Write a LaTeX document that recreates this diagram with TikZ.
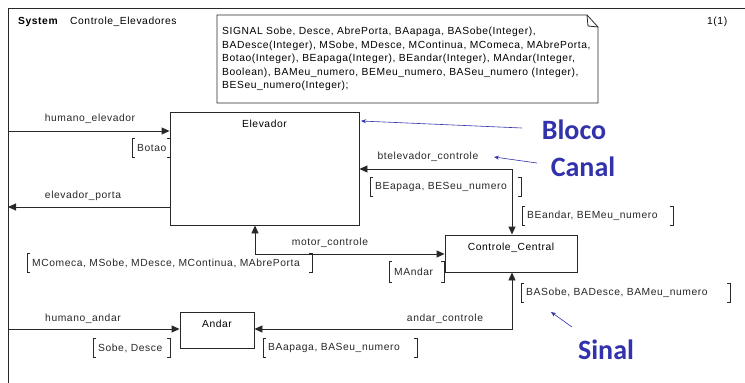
\documentclass[tikz,border=0pt]{standalone}
\usepackage{fontspec}
\setmainfont[LetterSpace=5.5]{Liberation Sans}
\newfontfamily\calloutfont{Carlito}
\usetikzlibrary{arrows.meta}
\definecolor{noteblue}{RGB}{50,50,172}
\definecolor{inkgray}{RGB}{40,40,40}

\tikzset{
  blk/.style={draw=inkgray, line width=0.9pt, inner sep=0pt},
  chan/.style={draw=inkgray, line width=0.9pt, -{Triangle[length=8pt,width=7pt]}},
  chanboth/.style={draw=inkgray, line width=0.9pt, {Triangle[length=8pt,width=7pt]}-{Triangle[length=8pt,width=7pt]}},
  chlabel/.style={inner sep=0pt, text=inkgray},
  sigtxt/.style={inner xsep=5pt, inner ysep=0pt, minimum height=18pt, align=left, text=inkgray},
  brk/.style={draw=inkgray, line width=0.7pt},
  callout/.style={text=noteblue, font=\calloutfont\bfseries\fontsize{28}{28}\selectfont, inner sep=0pt},
  callarrow/.style={draw=noteblue, line width=0.6pt, -{Stealth[length=5pt,width=4pt]}},
}
% square brackets around a signal list node
\newcommand{\sigbrackets}[1]{%
  \draw[brk] ([xshift=3pt]#1.north west) -- (#1.north west) -- (#1.south west) -- ([xshift=3pt]#1.south west);
  \draw[brk] ([xshift=-3pt]#1.north east) -- (#1.north east) -- (#1.south east) -- ([xshift=-3pt]#1.south east);
}

\begin{document}
\begin{tikzpicture}[x=1pt, y=-1pt, font=\fontsize{10.3}{12}\selectfont]
\useasboundingbox (0,0) rectangle (745,383);
\fill[white] (0,0) rectangle (745,383);

% system frame
\draw[inkgray, line width=0.9pt] (745,8) -- (8,8) -- (8,383);
\node[anchor=west, inner sep=0pt, font=\bfseries\fontsize{10.3}{12}\selectfont] (sysword) at (18,22) {System};
\node[anchor=west, inner sep=0pt] (sysname) at (70,22) {Controle\_Elevadores};
\node[anchor=west, inner sep=0pt] (pagenum) at (707,22) {1(1)};

% signal declaration note
\draw[inkgray, line width=0.8pt] (217,15) -- (587,15) -- (598,27) -- (598,103) -- (217,103) -- cycle;
\draw[inkgray, line width=0.8pt] (587,15) -- (588,26) -- (598,27);
\node[anchor=north west, inner sep=0pt, align=left, font=\fontsize{10.3}{13.5}\selectfont] (siglist) at (222,27)
 {SIGNAL Sobe, Desce, AbrePorta, BAapaga, BASobe(Integer),\\
  BADesce(Integer), MSobe, MDesce, MContinua, MComeca, MAbrePorta,\\
  Botao(Integer), BEapaga(Integer), BEandar(Integer), MAndar(Integer,\\
  Boolean), BAMeu\_numero, BEMeu\_numero, BASeu\_numero (Integer),\\
  BESeu\_numero(Integer);};

% blocks
\node[blk, minimum width=189pt, minimum height=113pt,
      label={[anchor=north, inner sep=0pt, yshift=-8pt]north:Elevador}] (elev) at (264.5,168.5) {};
\node[blk, minimum width=132pt, minimum height=37pt,
      label={[anchor=north, inner sep=0pt, yshift=-8pt]north:Controle\_Central}] (cc) at (511,253.5) {};
\node[blk, minimum width=74pt, minimum height=36pt,
      label={[anchor=north, inner sep=0pt, yshift=-8pt]north:Andar}] (andar) at (217,330) {};

% channel corner points
\coordinate (envhe) at (8,131);
\coordinate (envep) at (8,207);
\coordinate (envha) at (8,329);
\coordinate (mc) at (255,254);
\coordinate (bt) at (512,169);
\coordinate (ac) at (512,329);

% channels
\draw[chan] (envhe) -- (envhe -| elev.west);
\draw[chan] (envep -| elev.west) -- (envep);
\draw[chan] (envha) -- (envha -| andar.west);
\draw[chanboth] (elev.south -| mc) -- (mc) -- (mc -| cc.west);
\draw[chanboth] (bt -| elev.east) -- (bt) -- (bt |- cc.north);
\draw[chanboth] (ac -| andar.east) -- (ac) -- (ac |- cc.south);

% channel names
\node[chlabel] (lhe) at (90,119) {humano\_elevador};
\node[chlabel] (lep) at (83,196) {elevador\_porta};
\node[chlabel] (lmc) at (330,243) {motor\_controle};
\node[chlabel] (lbt) at (428,157) {btelevador\_controle};
\node[chlabel] (lha) at (83,319) {humano\_andar};
\node[chlabel] (lac) at (445,319) {andar\_controle};

% signal lists
\node[sigtxt, anchor=west, text width=28pt] (sbotao) at (132,148) {Botao};
\node[sigtxt, anchor=west, text width=141pt] (sbeap) at (370,187) {BEapaga, BESeu\_numero};
\node[sigtxt, anchor=west, text width=141pt] (sbean) at (522,216) {BEandar, BEMeu\_numero};
\node[sigtxt, anchor=west, text width=275pt] (smot) at (27,263) {MComeca, MSobe, MDesce, MContinua, MAbrePorta};
\node[sigtxt, anchor=west, text width=45pt, minimum height=21pt] (smand) at (389,272) {MAndar};
\node[sigtxt, anchor=west, text width=67pt] (ssobe) at (93,348) {Sobe, Desce};
\node[sigtxt, anchor=west, text width=144pt] (sbaap) at (263,348) {BAapaga, BASeu\_numero};
\node[sigtxt, anchor=west, text width=199pt] (sbaso) at (521,293) {BASobe, BADesce, BAMeu\_numero};
\sigbrackets{sbotao}
\sigbrackets{sbeap}
\sigbrackets{sbean}
\sigbrackets{smot}
\sigbrackets{smand}
\sigbrackets{ssobe}
\sigbrackets{sbaap}
\sigbrackets{sbaso}

% annotations
\node[callout] (bloco) at (574,130) {Bloco};
\node[callout] (canal) at (583,167) {Canal};
\node[callout] (sinal) at (606,350) {Sinal};
\coordinate (blocotail) at (522,128);
\coordinate (blocohead) at (361,121);
\coordinate (canaltail) at (537,163);
\coordinate (canalhead) at (494,157);
\coordinate (sinaltail) at (572,327);
\coordinate (sinalhead) at (551,312);
\draw[callarrow] (blocotail) -- (blocohead);
\draw[callarrow] (canaltail) -- (canalhead);
\draw[callarrow] (sinaltail) -- (sinalhead);
\end{tikzpicture}
\end{document}
